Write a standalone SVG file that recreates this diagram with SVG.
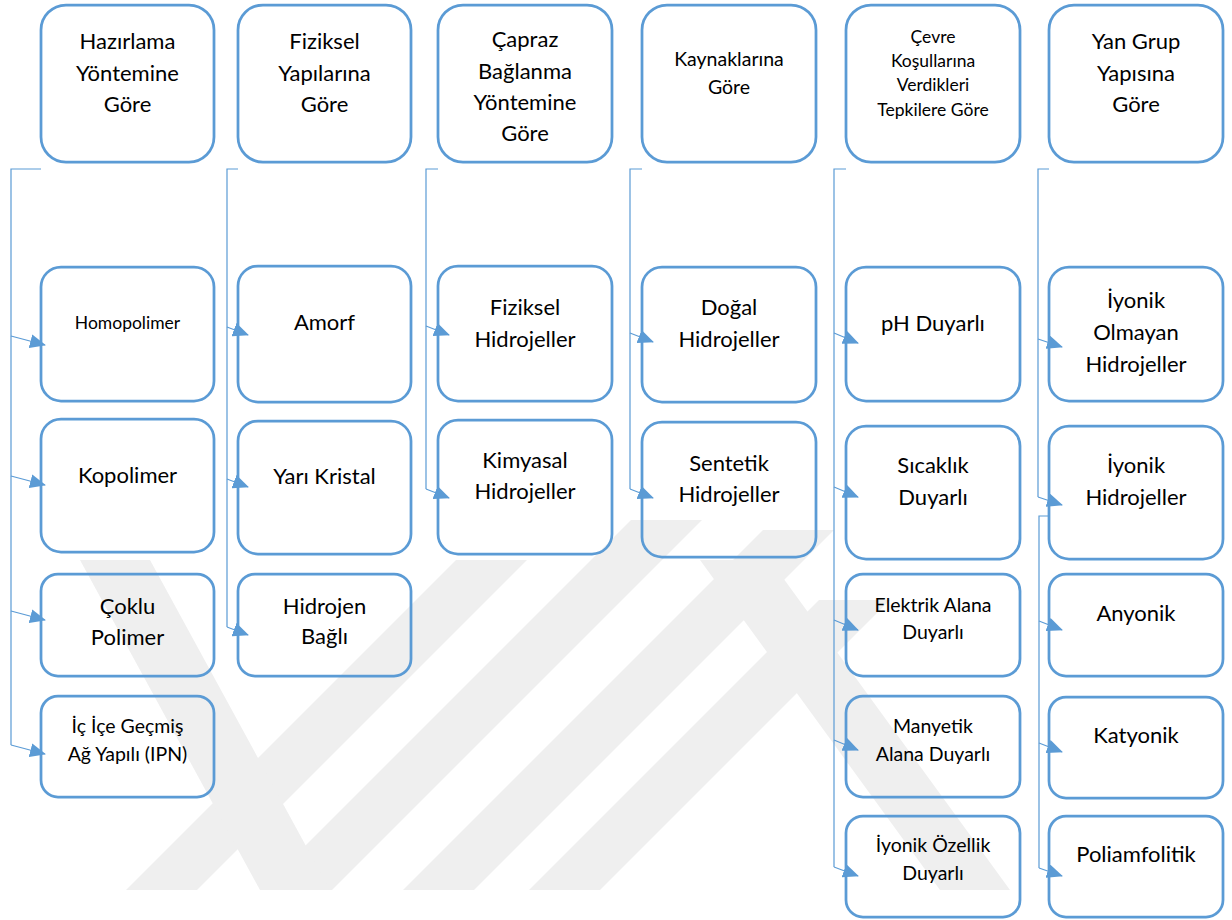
<svg xmlns="http://www.w3.org/2000/svg" width="1232" height="920" viewBox="0 0 1232 920">
<defs>
<style>
.box{fill:none;stroke:#5B9BD5;stroke-width:2.75}
.t{font-family:Lato,"Open Sans","Liberation Sans",sans-serif;fill:#000;text-anchor:middle}
.f22{font-size:22px}
.f20{font-size:19.5px}
.f19{font-size:19.5px}
.f17{font-size:17.5px}
.ln{fill:none;stroke:#5B9BD5;stroke-width:1.2}
.wm{fill:#efefef}
</style>
<marker id="ah" markerUnits="userSpaceOnUse" markerWidth="16" markerHeight="14" refX="15" refY="7" orient="auto">
<path d="M0,0 L16,7 L0,14 z" fill="#5B9BD5"/>
</marker>
</defs>
<rect width="1232" height="920" fill="#fff"/>
<g id="watermark">
<polygon class="wm" points="126,890 197,890 527,560 456,560"/>
<polygon class="wm" points="261,890 332,890 702,520 631,520"/>
<polygon class="wm" points="403,890 474,890 834,530 763,530"/>
<polygon class="wm" points="529,890 600,890 890,600 819,600"/>
<polygon class="wm" points="80,560 150,560 330,890 260,890"/>
<polygon class="wm" points="700,560 770,560 1010,890 940,890"/>
</g>
<g id="n1"><rect class="box" x="41" y="5" width="173" height="157" rx="25"/><text class="t f22"><tspan x="127.5" y="49">Hazırlama</tspan><tspan x="127.5" y="81">Yöntemine</tspan><tspan x="127.5" y="112">Göre</tspan></text></g>
<g id="n2"><rect class="box" x="238" y="5" width="173" height="157" rx="25"/><text class="t f22"><tspan x="324.5" y="49">Fiziksel</tspan><tspan x="324.5" y="81">Yapılarına</tspan><tspan x="324.5" y="112">Göre</tspan></text></g>
<g id="n3"><rect class="box" x="438" y="5" width="174" height="157" rx="25"/><text class="t f22"><tspan x="525" y="47">Çapraz</tspan><tspan x="525" y="79">Bağlanma</tspan><tspan x="525" y="110">Yöntemine</tspan><tspan x="525" y="141">Göre</tspan></text></g>
<g id="n4"><rect class="box" x="642" y="5" width="174" height="157" rx="25"/><text class="t f19"><tspan x="729" y="66">Kaynaklarına</tspan><tspan x="729" y="94">Göre</tspan></text></g>
<g id="n5"><rect class="box" x="846" y="5" width="174" height="157" rx="25"/><text class="t f17"><tspan x="933" y="43">Çevre</tspan><tspan x="933" y="67">Koşullarına</tspan><tspan x="933" y="91">Verdikleri</tspan><tspan x="933" y="116">Tepkilere Göre</tspan></text></g>
<g id="n6"><rect class="box" x="1049" y="5" width="174" height="157" rx="25"/><text class="t f22"><tspan x="1136" y="49">Yan Grup</tspan><tspan x="1136" y="81">Yapısına</tspan><tspan x="1136" y="112">Göre</tspan></text></g>

<g id="n1a"><rect class="box" x="41" y="267" width="173" height="134" rx="20"/><text class="t f17" x="127.5" y="329">Homopolimer</text></g>
<g id="n1b"><rect class="box" x="41" y="419" width="173" height="133" rx="20"/><text class="t f22" x="127.5" y="483">Kopolimer</text></g>
<g id="n1c"><rect class="box" x="41" y="574" width="173" height="102" rx="17"/><text class="t f22"><tspan x="127.5" y="614">Çoklu</tspan><tspan x="127.5" y="645">Polimer</tspan></text></g>
<g id="n1d"><rect class="box" x="41" y="696" width="173" height="101" rx="17"/><text class="t f20"><tspan x="127.5" y="733">İç İçe Geçmiş</tspan><tspan x="127.5" y="761">Ağ Yapılı (IPN)</tspan></text></g>

<g id="n2a"><rect class="box" x="238" y="266" width="173" height="136" rx="20"/><text class="t f22" x="324.5" y="330">Amorf</text></g>
<g id="n2b"><rect class="box" x="238" y="421" width="173" height="133" rx="20"/><text class="t f22" x="324.5" y="484">Yarı Kristal</text></g>
<g id="n2c"><rect class="box" x="238" y="574" width="173" height="102" rx="17"/><text class="t f22"><tspan x="324.5" y="614">Hidrojen</tspan><tspan x="324.5" y="644">Bağlı</tspan></text></g>

<g id="n3a"><rect class="box" x="438" y="266" width="174" height="135" rx="20"/><text class="t f22"><tspan x="525" y="315">Fiziksel</tspan><tspan x="525" y="347">Hidrojeller</tspan></text></g>
<g id="n3b"><rect class="box" x="438" y="420" width="174" height="134" rx="20"/><text class="t f22"><tspan x="525" y="468">Kimyasal</tspan><tspan x="525" y="499">Hidrojeller</tspan></text></g>

<g id="n4a"><rect class="box" x="642" y="267" width="174" height="135" rx="20"/><text class="t f22"><tspan x="729" y="315">Doğal</tspan><tspan x="729" y="347">Hidrojeller</tspan></text></g>
<g id="n4b"><rect class="box" x="642" y="422" width="174" height="135" rx="20"/><text class="t f22"><tspan x="729" y="471">Sentetik</tspan><tspan x="729" y="502">Hidrojeller</tspan></text></g>

<g id="n5a"><rect class="box" x="846" y="267" width="174" height="134" rx="20"/><text class="t f22" x="933" y="331">pH Duyarlı</text></g>
<g id="n5b"><rect class="box" x="846" y="426" width="174" height="133" rx="20"/><text class="t f22"><tspan x="933" y="473">Sıcaklık</tspan><tspan x="933" y="505">Duyarlı</tspan></text></g>
<g id="n5c"><rect class="box" x="846" y="574" width="174" height="102" rx="17"/><text class="t f20"><tspan x="933" y="612">Elektrik Alana</tspan><tspan x="933" y="639">Duyarlı</tspan></text></g>
<g id="n5d"><rect class="box" x="846" y="696" width="174" height="101" rx="17"/><text class="t f20"><tspan x="933" y="733">Manyetik</tspan><tspan x="933" y="761">Alana Duyarlı</tspan></text></g>
<g id="n5e"><rect class="box" x="846" y="816" width="174" height="101" rx="17"/><text class="t f20"><tspan x="933" y="852">İyonik Özellik</tspan><tspan x="933" y="880">Duyarlı</tspan></text></g>

<g id="n6a"><rect class="box" x="1049" y="267" width="174" height="134" rx="20"/><text class="t f22"><tspan x="1136" y="308">İyonik</tspan><tspan x="1136" y="340">Olmayan</tspan><tspan x="1136" y="372">Hidrojeller</tspan></text></g>
<g id="n6b"><rect class="box" x="1049" y="426" width="174" height="133" rx="20"/><text class="t f22"><tspan x="1136" y="473">İyonik</tspan><tspan x="1136" y="505">Hidrojeller</tspan></text></g>
<g id="n6c"><rect class="box" x="1049" y="574" width="174" height="102" rx="17"/><text class="t f22" x="1136" y="621">Anyonik</text></g>
<g id="n6d"><rect class="box" x="1049" y="697" width="174" height="101" rx="17"/><text class="t f22" x="1136" y="743">Katyonik</text></g>
<g id="n6e"><rect class="box" x="1049" y="816" width="174" height="101" rx="17"/><text class="t f22" x="1136" y="862">Poliamfolitik</text></g>

<g id="connectors">
<path class="ln" d="M41,169 H11 V745"/>
<path class="ln" d="M11,336 L45,345" marker-end="url(#ah)"/>
<path class="ln" d="M11,476 L45,485" marker-end="url(#ah)"/>
<path class="ln" d="M11,611 L45,620" marker-end="url(#ah)"/>
<path class="ln" d="M11,745 L45,754" marker-end="url(#ah)"/>

<path class="ln" d="M238,169 H227 V627"/>
<path class="ln" d="M227,327 L248,335" marker-end="url(#ah)"/>
<path class="ln" d="M227,479 L248,487" marker-end="url(#ah)"/>
<path class="ln" d="M227,627 L248,635" marker-end="url(#ah)"/>

<path class="ln" d="M438,169 H426 V489"/>
<path class="ln" d="M426,326 L449,335" marker-end="url(#ah)"/>
<path class="ln" d="M426,489 L449,498" marker-end="url(#ah)"/>

<path class="ln" d="M642,169 H630 V489"/>
<path class="ln" d="M630,333 L653,342" marker-end="url(#ah)"/>
<path class="ln" d="M630,489 L653,498" marker-end="url(#ah)"/>

<path class="ln" d="M846,169 H834 V867"/>
<path class="ln" d="M834,333 L858,343" marker-end="url(#ah)"/>
<path class="ln" d="M834,487 L858,497" marker-end="url(#ah)"/>
<path class="ln" d="M834,620 L858,630" marker-end="url(#ah)"/>
<path class="ln" d="M834,740 L858,750" marker-end="url(#ah)"/>
<path class="ln" d="M834,867 L858,876" marker-end="url(#ah)"/>

<path class="ln" d="M1049,169 H1038 V497"/>
<path class="ln" d="M1038,339 L1062,347" marker-end="url(#ah)"/>
<path class="ln" d="M1038,497 L1062,505" marker-end="url(#ah)"/>
<path class="ln" d="M1049,516 H1039 V868"/>
<path class="ln" d="M1039,621 L1062,630" marker-end="url(#ah)"/>
<path class="ln" d="M1039,743 L1062,752" marker-end="url(#ah)"/>
<path class="ln" d="M1039,868 L1062,876" marker-end="url(#ah)"/>
</g>
</svg>
